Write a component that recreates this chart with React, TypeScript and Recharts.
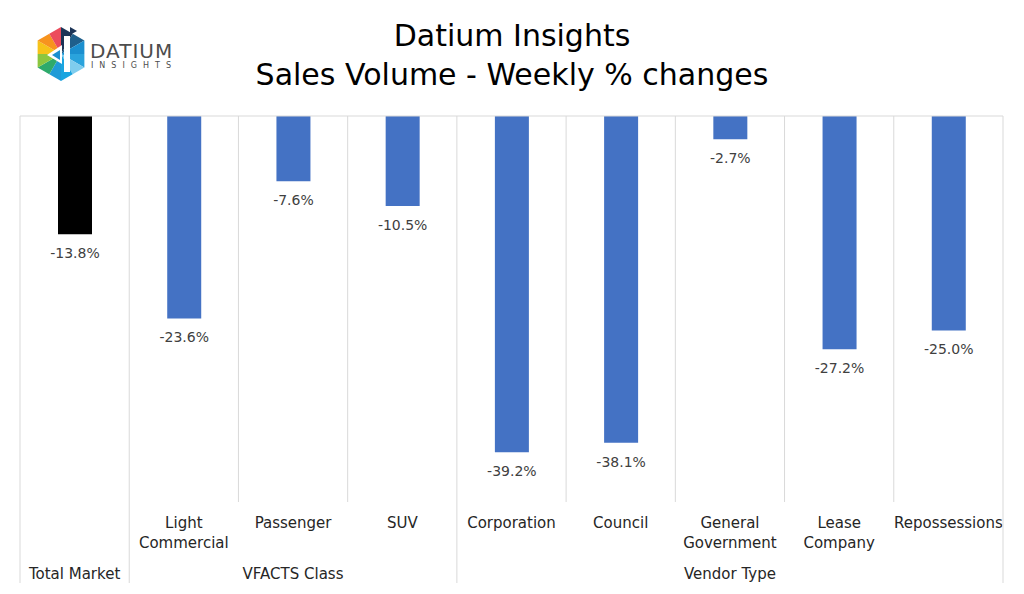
import React from "react"
import { BarChart, Bar, XAxis, YAxis, CartesianGrid, ReferenceLine, Cell, LabelList } from "recharts"

const categories = [
  "Total Market",
  "Light Commercial",
  "Passenger",
  "SUV",
  "Corporation",
  "Council",
  "General Government",
  "Lease Company",
  "Repossessions",
]

// text shown on the first axis row (Total Market only sits on the group row)
const tickLines = [
  [],
  ["Light", "Commercial"],
  ["Passenger"],
  ["SUV"],
  ["Corporation"],
  ["Council"],
  ["General", "Government"],
  ["Lease", "Company"],
  ["Repossessions"],
]

const values = [-13.8, -23.6, -7.6, -10.5, -39.2, -38.1, -2.7, -27.2, -25.0]

const groupNames = ["Total Market", "VFACTS Class", "Vendor Type"]
const groupStart = [0, 1, 4]
const groupEnd = [0, 3, 8]

const data = categories.map((name, i) => ({ name, value: values[i] }))

const W = 1024
const H = 594
const LEFT = 20
const RIGHT = 21
const TOP = 116
const AXIS_H = 92
const BAND = (W - LEFT - RIGHT) / categories.length
const GRID = "#d9d9d9"
const FONT = "DejaVu Sans"

function CategoryTick(props: any) {
  const { x, y, payload } = props
  const i = payload.index
  const lines = tickLines[i] || []
  const g = groupStart.indexOf(i)
  const gMid = groupNames.findIndex((_, k) => {
    const mid = (groupStart[k] + groupEnd[k]) / 2
    return Math.floor(mid) === i
  })
  const out: any[] = []
  lines.forEach((t, k) => {
    out.push(
      <text key={"l" + k} x={x} y={y + 21 + k * 20} textAnchor="middle" dominantBaseline="middle"
        fontFamily={FONT} fontSize={15} fill="#262626">{t}</text>
    )
  })
  if (gMid >= 0) {
    const mid = (groupStart[gMid] + groupEnd[gMid]) / 2
    const gx = x + (mid - i) * BAND
    out.push(
      <text key="g" x={gx} y={y + 72} textAnchor="middle" dominantBaseline="middle"
        fontFamily={FONT} fontSize={15} fill="#262626">{groupNames[gMid]}</text>
    )
  }
  if (g >= 0) {
    const lx = x - BAND / 2
    out.push(<line key="gl" x1={lx} x2={lx} y1={y} y2={y + 81} stroke={GRID} />)
  }
  if (i === categories.length - 1) {
    const rx = x + BAND / 2
    out.push(<line key="gr" x1={rx} x2={rx} y1={y} y2={y + 81} stroke={GRID} />)
  }
  return <g>{out}</g>
}

function ValueLabel(props: any) {
  const { x, y, width, height, value } = props
  const bottom = Math.max(y, y + height)
  return (
    <text x={x + width / 2} y={bottom + 20} textAnchor="middle" dominantBaseline="middle"
      fontFamily={FONT} fontSize={14} fill="#404040">
      {`${Number(value).toFixed(1)}%`}
    </text>
  )
}

function Logo() {
  const cx = 61
  const cy = 54
  const r = 27
  const pts = Array.from({ length: 6 }, (_, k) => {
    const a = (-90 + k * 60) * Math.PI / 180
    return [cx + r * Math.cos(a), cy + r * Math.sin(a)]
  })
  const colors = [
    ["#1d3557", "#1f5f8b"],
    ["#1b8fcf", "#2aa3dc"],
    ["#7fcdee", "#1aa5e0"],
    ["#1f9bd7", "#2eaa6b"],
    ["#8cc63f", "#f6c319"],
    ["#f7931e", "#ec4c5c"],
  ]
  const tris: any[] = []
  pts.forEach((p, k) => {
    const q = pts[(k + 1) % 6]
    const m = [(p[0] + q[0]) / 2, (p[1] + q[1]) / 2]
    tris.push(<polygon key={k + "a"} points={`${cx},${cy} ${p[0]},${p[1]} ${m[0]},${m[1]}`} fill={colors[k][0]} />)
    tris.push(<polygon key={k + "b"} points={`${cx},${cy} ${m[0]},${m[1]} ${q[0]},${q[1]}`} fill={colors[k][1]} />)
  })
  return (
    <svg width={200} height={100} style={{ position: "absolute", left: 0, top: 0 }}>
      {tris}
      <polygon points="70,27 77,31 70,35" fill="#1d3557" />
      <rect x={64} y={36} width={6} height={36} fill="#fff" />
      <polygon points="62,45 62,64 47,55" fill="#fff" />
      <polygon points="60,50 60,60 52,55" fill="#1b8fcf" />
      <text x={90} y={58} fontFamily={FONT} fontSize={20} fill="#4d4d4d" letterSpacing={1}>DATIUM</text>
      <text x={91} y={68} fontFamily={FONT} fontSize={8} fill="#4d4d4d" letterSpacing={6}>INSIGHTS</text>
    </svg>
  )
}

export default function App() {
  return (
    <div style={{ position: "absolute", left: 0, top: 0, width: W, height: H, background: "#fff", overflow: "hidden" }}>
      <BarChart width={W} height={H} data={data}
        margin={{ top: TOP, right: RIGHT, left: LEFT, bottom: 0 }} barSize={34}>
        <CartesianGrid horizontal={false} stroke={GRID}
          verticalCoordinatesGenerator={({ offset }: any) =>
            categories.map((_, i) => offset.left + i * BAND).concat([offset.left + offset.width])} />
        <ReferenceLine y={0} stroke={GRID} />
        <YAxis hide domain={[-45, 0]} />
        <XAxis dataKey="name" height={AXIS_H} axisLine={false} tickLine={false} tickSize={0}
          tickMargin={0} interval={0} tick={<CategoryTick />} />
        <Bar dataKey="value" isAnimationActive={false}>
          {data.map((d, i) => (
            <Cell key={d.name} fill={i === 0 ? "#000000" : "#4472c4"} />
          ))}
          <LabelList dataKey="value" content={<ValueLabel />} />
        </Bar>
      </BarChart>
      <div style={{ position: "absolute", left: 0, top: 16, width: W, textAlign: "center", fontFamily: FONT,
        fontSize: 30, lineHeight: "39px", color: "#000" }}>
        <div>Datium Insights</div>
        <div>Sales Volume - Weekly % changes</div>
      </div>
      <Logo />
    </div>
  )
}
